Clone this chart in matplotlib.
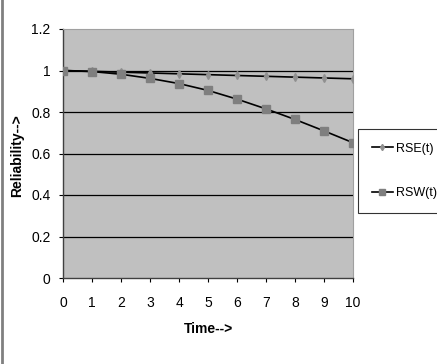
import numpy as np
import matplotlib
matplotlib.use("Agg")
import matplotlib.pyplot as plt
from matplotlib.lines import Line2D

plt.rcParams['font.family'] = ['Liberation Sans', 'DejaVu Sans']

time = [0, 1, 2, 3, 4, 5, 6, 7, 8, 9, 10]
rse = [1.0, 0.996, 0.992, 0.988, 0.984, 0.980, 0.976, 0.972, 0.968, 0.964, 0.960]
rsw = [1.0, 0.995, 0.982, 0.962, 0.937, 0.904, 0.862, 0.815, 0.764, 0.709, 0.652]
yticks = [0, 0.2, 0.4, 0.6, 0.8, 1, 1.2]
ytick_labels = ["0", "0.2", "0.4", "0.6", "0.8", "1", "1.2"]

fig = plt.figure(figsize=(4.37, 3.64), dpi=100)
ax = fig.add_axes([63 / 437, 1 - 278 / 364, 290 / 437, 249 / 364])
ax.set_facecolor("#c0c0c0")

# gridlines (not at the top)
for y in yticks[1:-1]:
    ax.axhline(y, color="black", lw=0.9, zorder=1)

ax.plot(time, rse, color="black", lw=1.2, marker="d", ms=4,
        mfc="#909090", mec="#909090", label="RSE(t)", zorder=3)
ax.plot(time, rsw, color="black", lw=1.2, marker="s", ms=6,
        mfc="#7f7f7f", mec="#7f7f7f", label="RSW(t)", zorder=3)

ax.set_xlim(0, 10)
ax.set_ylim(0, 1.2)
ax.set_xticks(time)
ax.set_yticks(yticks)
ax.set_yticklabels(ytick_labels)
ax.tick_params(direction="out", length=3, width=0.8, labelsize=10, colors="black")
ax.tick_params(axis="x", pad=10)
ax.tick_params(axis="y", pad=6)

for side in ["top", "right"]:
    ax.spines[side].set_color("#a0a0a0")
    ax.spines[side].set_linewidth(0.8)
for side in ["left", "bottom"]:
    ax.spines[side].set_color("#404040")
    ax.spines[side].set_linewidth(1.0)

ax.set_xlabel("Time-->", fontsize=10, fontweight="bold")
ax.set_ylabel("Reliability-->", fontsize=10, fontweight="bold")
ax.xaxis.set_label_coords(0.5, -(329 - 278) / 249, transform=ax.transAxes)
ax.xaxis.label.set_va("center")
ax.yaxis.set_label_coords((17 - 63) / 290, (278 - 156) / 249, transform=ax.transAxes)
ax.yaxis.label.set_va("center")

leg = fig.legend(loc="upper left", bbox_to_anchor=(358 / 437, 1 - 129 / 364),
                 fontsize=9, frameon=True, fancybox=False, handlelength=1.7,
                 labelspacing=2.6, borderpad=1.1, handletextpad=0.25,
                 borderaxespad=0, markerscale=0.8)
leg.get_frame().set_edgecolor("black")
leg.get_frame().set_linewidth(0.8)

# left border of the figure
fig.add_artist(Line2D([0.005, 0.005], [0, 1], color="#808080", lw=2,
                      transform=fig.transFigure))

fig.savefig("out.png", dpi=100)
